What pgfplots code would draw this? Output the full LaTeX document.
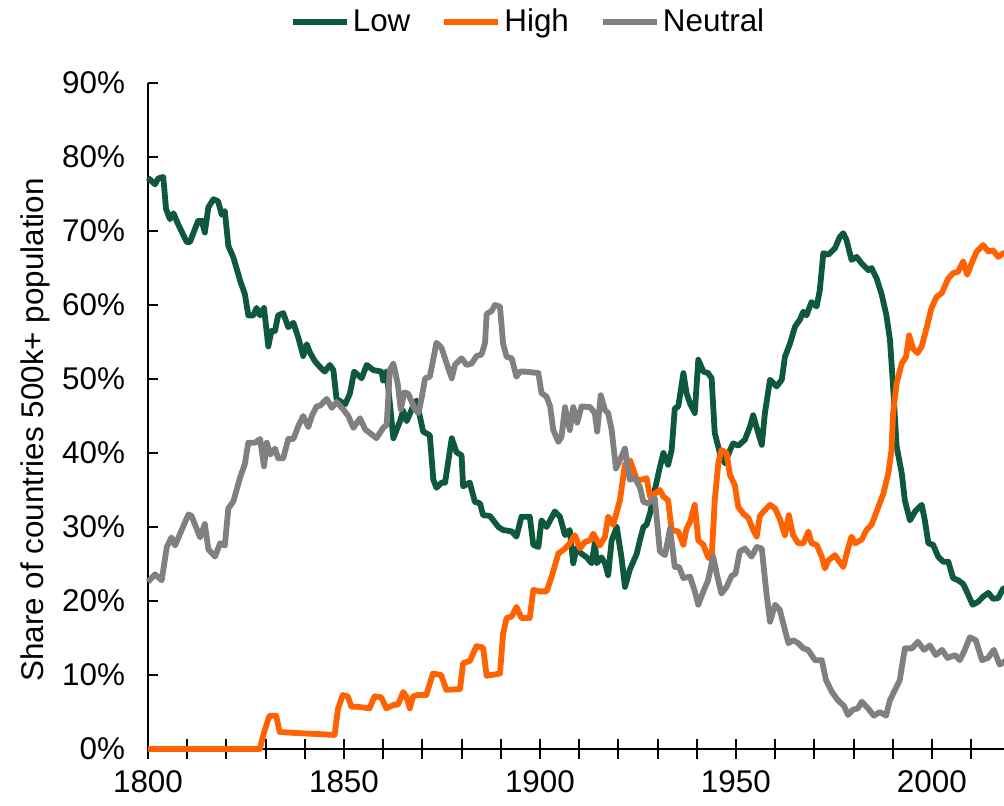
\documentclass[border=0pt]{standalone}
\usepackage{fontspec}
\setmainfont{Liberation Sans}
\usepackage{pgfplots}
\pgfplotsset{compat=1.18}

\definecolor{lowgreen}{RGB}{14,88,60}
\definecolor{highorange}{RGB}{255,98,0}
\definecolor{neutralgray}{RGB}{128,128,128}

\newcommand{\chartfont}{\fontsize{15.7}{19}\selectfont}

\begin{document}
\begin{tikzpicture}
\begin{axis}[
  scale only axis, width=428pt, height=333pt,
  xmin=1800, xmax=2018.4, ymin=0, ymax=90,
  axis lines*=left,
  axis line style={line width=1pt, black},
  xtick={1800,1850,1900,1950,2000},
  minor xtick={1810,1820,1830,1840,1860,1870,1880,1890,1910,1920,1930,1940,1960,1970,1980,1990,2010},
  ytick={0,10,...,90},
  yticklabel={\pgfmathprintnumber{\tick}\%},
  xticklabel={\pgfmathprintnumber[1000 sep={}]{\tick}},
  xtick align=center, ytick align=inside,
  major tick length=10pt, minor tick length=10pt,
  ytick style={/pgfplots/major tick length=5pt},
  every tick/.style={black, line width=1pt},
  /pgf/number format/assume math mode=true,
  tick label style={font=\chartfont},
  yticklabel style={xshift=-8pt},
  xticklabel style={yshift=-2pt},
  ylabel={Share of countries 500k+ population},
  ylabel style={font=\chartfont, at={(axis description cs:-0.132,0.479)}, anchor=center},
  clip=false,
  legend columns=3,
  legend style={at={(0.4445,1.0916)}, anchor=center, draw=none, fill=none,
    font=\chartfont, inner xsep=0pt, nodes={inner xsep=1.5pt},
    /tikz/every even column/.append style={column sep=14pt}},
  legend image code/.code={\draw[#1, line width=3pt] (0pt,0pt) -- (27pt,0pt);},
  every axis plot/.append style={line width=2.9pt, line join=round, no marks},
]
\addplot[lowgreen] coordinates {
(1800,77.2) (1801.8,76.3) (1802.6,77.1) (1803.9,77.3) (1804.6,73.0) (1805.6,71.6)
(1806.5,72.4) (1807.7,70.9) (1809.9,68.5) (1810.7,68.5) (1812.8,71.4) (1813.7,71.4)
(1814.5,69.8) (1815.4,73.2) (1816.7,74.3) (1817.9,74.0) (1818.8,72.2) (1819.6,72.7)
(1820.5,68.0) (1821.8,66.4) (1823.5,63.3) (1824.7,61.5) (1825.6,58.6) (1826.9,58.6)
(1827.7,59.6) (1828.6,58.6) (1829.6,59.6) (1830.7,54.4) (1831.5,56.5) (1832.4,56.5)
(1833.2,58.6) (1834.5,58.9) (1835.8,57.0) (1837.1,57.6) (1838.4,55.5) (1839.6,53.1)
(1840.5,54.7) (1841.3,53.6) (1842.6,52.4) (1843.9,51.6) (1845.1,51.0) (1846.4,51.9)
(1847.3,51.2) (1848.1,47.3) (1850.3,46.6) (1851.5,48.0) (1852.6,51.0) (1854.5,50.1)
(1855.8,51.9) (1857.5,51.2) (1859.6,51.0) (1860.0,49.8) (1860.9,51.0) (1862.6,42.0)
(1864.3,44.3) (1865.1,45.7) (1866.0,44.3) (1867.7,46.4) (1868.5,47.1) (1870.2,42.9)
(1871.9,42.4) (1872.8,36.4) (1873.6,35.3) (1874.9,36.0) (1875.8,36.0) (1877.5,42.0)
(1878.7,40.1) (1880.0,39.7) (1880.4,35.5) (1882.1,36.0) (1883.4,33.4) (1884.7,33.2)
(1885.5,31.6) (1887.2,31.5) (1888.1,30.9) (1889.4,30.0) (1890.6,29.6) (1892.8,29.4)
(1894.0,28.7) (1895.3,31.4) (1897.4,31.4) (1898.3,27.6) (1899.6,27.3) (1900.4,30.9)
(1901.7,30.0) (1902.6,30.9) (1903.8,32.1) (1905.1,31.4) (1906.4,28.9) (1907.6,29.6)
(1908.5,25.1) (1909.3,27.1) (1910.6,26.4) (1911.9,25.9) (1913.2,25.1) (1914.0,27.8)
(1914.5,25.1) (1915.7,25.9) (1916.6,25.1) (1917.4,23.5) (1918.3,28.2) (1919.6,30.0)
(1920.8,25.9) (1921.7,21.9) (1922.9,24.2) (1924.7,26.4) (1925.5,28.2) (1926.4,30.0)
(1927.2,30.3) (1928.1,31.9) (1929.3,35.0) (1930.6,38.1) (1931.5,40.0) (1932.7,38.4)
(1933.6,40.4) (1934.4,46.0) (1935.3,46.3) (1936.6,50.8) (1937.4,48.1) (1938.3,46.7)
(1939.5,45.4) (1940.4,52.6) (1941.7,51.0) (1942.9,50.8) (1943.8,50.1) (1944.6,42.7)
(1945.9,40.0) (1947.2,38.6) (1948.5,40.4) (1949.3,41.3) (1950.6,41.0) (1952.3,41.8)
(1953.6,43.6) (1954.4,45.1) (1955.7,42.7) (1956.6,41.1) (1957.4,45.4) (1958.7,49.9)
(1960.4,49.0) (1961.7,49.9) (1962.5,53.0) (1963.8,54.8) (1965.1,57.1) (1966.3,58.0)
(1967.2,59.1) (1968.0,58.6) (1969.3,60.4) (1970.6,59.8) (1971.4,62.0) (1972.3,67.0)
(1973.6,66.8) (1975.3,67.7) (1976.5,69.2) (1977.4,69.7) (1978.2,68.8) (1979.5,66.1)
(1980.8,66.5) (1982.1,65.6) (1983.8,64.7) (1984.6,65.0) (1985.9,63.6) (1987.2,61.4)
(1988.4,58.6) (1989.3,55.3) (1990.1,49.0) (1991.0,40.9) (1992.3,37.3) (1993.1,33.6)
(1994.4,30.9) (1995.7,32.1) (1997.4,33.0) (1998.2,30.9) (1999.1,27.8) (2000.3,27.6)
(2001.6,26.0) (2002.9,25.3) (2004.2,25.3) (2005.4,23.1) (2006.7,22.8) (2008.0,22.3)
(2008.8,21.4) (2010.4,19.5) (2011.8,19.9) (2013.1,20.6) (2014.4,21.1) (2015.6,20.3)
(2016.9,20.4) (2018.2,21.7) (2019.0,21.7)
};
\addlegendentry{Low}
\addplot[highorange] coordinates {
(1800,0) (1828.5,0) (1829.8,2.6) (1831.0,4.5) (1832.7,4.5) (1833.6,2.3) (1836.6,2.2)
(1840.0,2.1) (1844.2,2.0) (1847.6,1.9) (1848.5,5.5) (1849.7,7.3) (1851.0,7.1)
(1851.9,5.7) (1853.6,5.7) (1856.5,5.5) (1857.8,7.1) (1859.5,7.0) (1860.8,5.5)
(1862.9,6.0) (1863.8,6.0) (1865.1,7.7) (1865.9,7.1) (1866.8,5.5) (1867.6,7.1)
(1868.9,7.3) (1871.0,7.3) (1872.7,10.2) (1874.8,10.0) (1876.1,8.0) (1879.6,8.1)
(1880.4,11.6) (1882.1,11.9) (1883.8,13.9) (1885.5,13.7) (1886.4,9.9) (1889.8,10.2)
(1890.6,15.6) (1891.5,17.7) (1892.8,17.9) (1894.0,19.2) (1895.3,17.7) (1897.4,17.7)
(1898.3,21.5) (1900.0,21.3) (1901.7,21.3) (1903.0,23.3) (1904.7,26.4) (1906.4,27.1)
(1907.6,27.8) (1908.9,28.9) (1910.2,27.1) (1911.5,28.0) (1912.8,28.2) (1913.6,29.1)
(1915.3,27.5) (1916.6,28.7) (1917.4,31.4) (1918.7,30.3) (1920.4,33.6) (1921.7,38.5)
(1923.0,39.0) (1924.7,36.4) (1925.9,36.4) (1927.2,36.6) (1928.1,34.1) (1929.3,34.5)
(1930.6,35.0) (1931.5,34.1) (1932.7,33.6) (1933.6,29.6) (1935.3,29.4) (1936.6,27.6)
(1937.4,29.8) (1938.3,30.7) (1939.5,33.0) (1940.4,28.2) (1941.7,27.6) (1943.0,25.8)
(1943.8,25.8) (1944.6,33.6) (1945.5,38.6) (1946.3,40.4) (1947.6,40.0) (1948.5,37.0)
(1949.7,35.7) (1950.6,32.7) (1951.9,31.8) (1953.2,31.2) (1954.4,29.6) (1955.3,28.7)
(1956.1,31.5) (1957.4,32.3) (1958.7,33.0) (1960.0,32.5) (1961.2,31.1) (1962.5,28.9)
(1963.5,31.6) (1964.6,28.9) (1965.9,27.8) (1967.2,27.8) (1968.5,29.4) (1969.3,27.8)
(1970.6,27.6) (1971.9,26.0) (1972.7,24.4) (1973.6,25.5) (1975.3,26.2) (1976.1,25.5)
(1977.4,24.6) (1978.7,27.3) (1979.5,28.7) (1980.4,27.8) (1982.1,28.3) (1983.3,29.6)
(1984.6,30.3) (1985.9,32.1) (1987.6,34.5) (1988.9,37.3) (1989.7,40.4) (1990.1,45.4)
(1991.0,49.4) (1992.3,52.1) (1993.4,53.0) (1994.2,55.9) (1995.2,54.1) (1996.3,53.5)
(1997.4,54.4) (1998.6,56.8) (1999.9,59.6) (2001.2,61.1) (2002.5,61.6) (2004.2,63.6)
(2005.4,64.3) (2006.7,64.5) (2008.0,65.9) (2009.0,64.1) (2010.1,65.6) (2011.4,67.2)
(2013.1,68.1) (2014.4,67.2) (2015.6,67.4) (2016.9,66.5) (2018.2,67.0) (2019.0,67.0)
};
\addlegendentry{High}
\addplot[neutralgray] coordinates {
(1800,22.6) (1801.8,23.6) (1803.5,22.8) (1804.8,27.3) (1806.0,28.6) (1806.9,27.5)
(1808.6,29.6) (1810.3,31.7) (1811.1,31.5) (1813.3,28.6) (1814.5,30.4) (1815.4,27.0)
(1817.1,26.0) (1818.4,27.8) (1819.6,27.5) (1820.5,32.5) (1821.8,33.5) (1823.5,36.7)
(1824.7,38.5) (1825.6,41.4) (1827.3,41.4) (1828.6,41.9) (1829.6,38.2) (1830.3,41.4)
(1831.2,39.8) (1832.4,40.6) (1833.2,39.3) (1834.5,39.3) (1835.8,41.9) (1837.1,41.9)
(1838.4,43.7) (1839.6,45.0) (1840.9,43.5) (1841.8,45.0) (1843.0,46.3) (1843.9,46.4)
(1845.6,47.3) (1846.9,46.1) (1848.1,46.9) (1849.8,45.9) (1851.1,45.0) (1852.4,43.4)
(1854.1,44.7) (1855.4,43.2) (1856.6,42.7) (1858.3,42.0) (1860.0,43.4) (1860.9,43.8)
(1861.7,51.2) (1862.6,52.1) (1863.7,49.4) (1864.5,45.9) (1865.4,48.2) (1866.4,48.0)
(1867.3,46.9) (1868.1,45.9) (1869.0,45.4) (1869.8,47.4) (1870.7,50.1) (1871.9,50.3)
(1873.6,54.9) (1874.9,54.2) (1876.2,52.1) (1877.5,50.1) (1878.3,51.9) (1880.0,52.8)
(1881.3,51.9) (1882.6,52.1) (1883.8,53.1) (1885.1,53.3) (1886.0,54.9) (1886.4,58.8)
(1887.7,59.2) (1888.5,60.0) (1889.8,59.8) (1890.6,54.8) (1891.5,53.0) (1892.8,52.8)
(1894.0,50.3) (1894.9,51.0) (1896.2,51.0) (1899.6,50.8) (1900.4,48.1) (1901.7,47.6)
(1902.6,46.3) (1903.4,43.1) (1904.7,41.5) (1905.5,42.2) (1906.4,46.2) (1907.6,43.1)
(1908.5,46.2) (1909.5,44.1) (1910.6,46.3) (1912.8,46.2) (1914.0,45.4) (1914.6,42.9)
(1915.5,47.8) (1916.6,45.8) (1917.4,45.4) (1918.3,43.1) (1919.4,37.9) (1920.8,39.5)
(1921.7,40.6) (1922.9,36.4) (1924.2,36.6) (1925.5,35.4) (1926.4,33.4) (1927.6,33.2)
(1929.3,33.9) (1930.6,26.7) (1931.9,26.2) (1933.2,29.8) (1934.4,24.6) (1935.5,24.6)
(1936.6,23.1) (1938.3,23.3) (1939.5,21.3) (1940.4,19.5) (1941.7,21.3) (1942.9,22.8)
(1944.2,26.0) (1945.1,23.7) (1946.3,21.0) (1947.6,21.9) (1948.9,23.4) (1949.9,23.7)
(1951.0,26.7) (1952.3,27.1) (1954.0,26.0) (1955.3,27.3) (1956.6,27.1) (1957.8,21.0)
(1958.7,17.2) (1960.0,19.5) (1961.2,18.8) (1962.5,16.1) (1963.4,14.3) (1964.6,14.7)
(1965.9,14.3) (1967.2,13.6) (1968.4,13.4) (1970.2,12.0) (1971.9,12.0) (1973.0,9.3)
(1974.5,7.7) (1976.0,6.6) (1977.6,5.8) (1978.6,4.6) (1979.8,5.3) (1981.1,5.5)
(1982.1,6.4) (1983.7,5.5) (1985.2,4.5) (1986.7,5.0) (1988.3,4.5) (1989.3,6.6)
(1990.6,8.0) (1991.8,9.3) (1993.1,13.6) (1994.9,13.6) (1996.4,14.5) (1998.0,13.4)
(1999.5,14.0) (2001.0,12.7) (2002.6,13.4) (2004.0,12.3) (2005.9,12.7) (2007.1,12.0)
(2008.4,13.4) (2009.7,15.1) (2011.2,14.7) (2012.8,12.0) (2014.3,12.3) (2015.8,13.4)
(2017.3,11.4) (2019.0,12.0)
};
\addlegendentry{Neutral}
\end{axis}
\pgfresetboundingbox
\path (-74pt,-28pt) rectangle (428pt,374.5pt);
\end{tikzpicture}
\end{document}
